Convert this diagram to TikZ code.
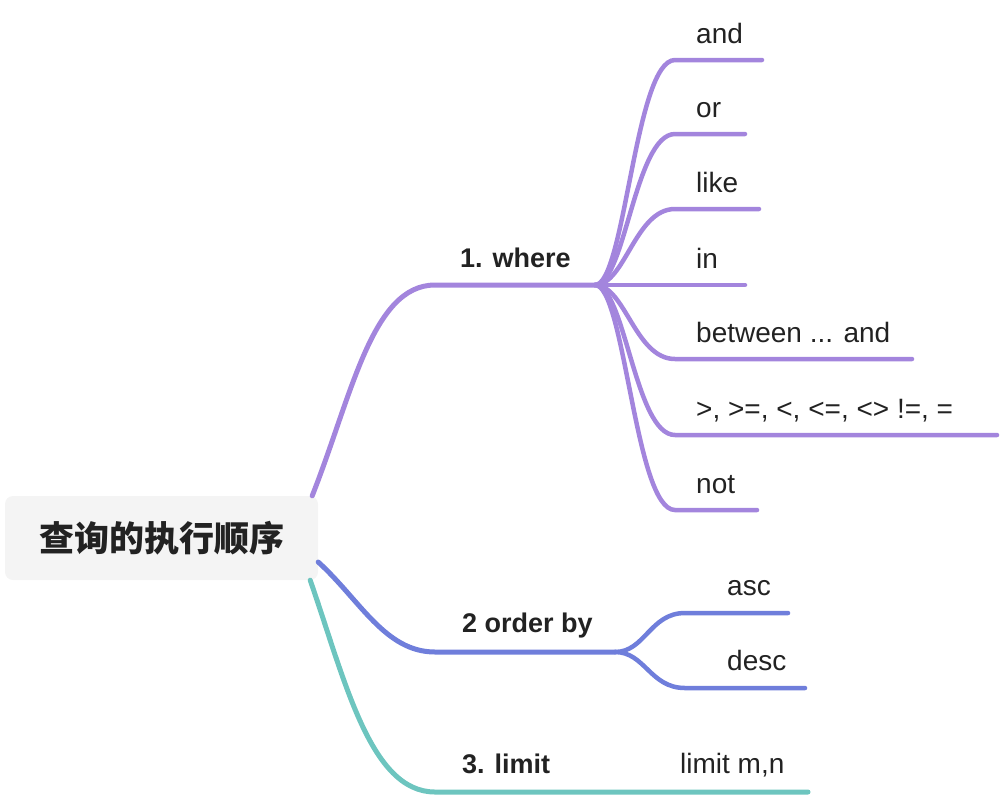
\documentclass[tikz,border=0pt]{standalone}
\usepackage{fontspec}
\setmainfont{Liberation Sans}
\newfontfamily\cjk{Noto Sans CJK SC}
\definecolor{wherecol}{HTML}{A385DD}
\definecolor{ordercol}{HTML}{6F7EDB}
\definecolor{limitcol}{HTML}{6DC5BF}
\definecolor{textcol}{HTML}{222222}
\definecolor{rootfill}{HTML}{F4F4F4}
\tikzset{
  rootbox/.style={fill=rootfill, rounded corners=8pt, minimum width=313pt,
    minimum height=84pt, inner sep=0pt, text=textcol,
    font=\cjk\bfseries\fontsize{35}{40}\selectfont},
  branch/.style={line width=5pt, line cap=round},
  twig/.style={line width=4.5pt, line cap=round},
  headtext/.style={anchor=base west, inner sep=0pt, text=textcol,
    font=\bfseries\fontsize{27}{32}\selectfont},
  leaf/.style={anchor=base west, inner sep=0pt, text=textcol,
    font=\fontsize{28}{32}\selectfont}
}
\begin{document}
\begin{tikzpicture}[x=1pt,y=-1pt]
\useasboundingbox (0,0) rectangle (1000,796);
\node [rootbox] (root) at (161.5,538) {查询的执行顺序};
\coordinate (jw) at (595,285);
\coordinate (jo) at (615,652);
% main branches
\draw [branch, wherecol] ([xshift=-6pt]root.north east) .. controls (352,395) and (372,285) .. (435,285) -- (jw);
\draw [branch, ordercol] ([yshift=-24pt]root.east) .. controls (360,600) and (385,652) .. (435,652) -- (jo);
\draw [branch, limitcol] ([xshift=-8pt]root.south east) .. controls (345,680) and (370,792) .. (435,792) -- (808,792);
\node [headtext] (where) at (460,267) {1. where};
\node [headtext] (order) at (462,632) {2 order by};
\node [headtext] (limit) at (462,773) {3. limit};
\node [leaf] (limitmn) at (680,773) {limit m,n};
% where
\foreach \name/\y/\xend/\txt in {and/60/762/and, or/134/745/or, like/209/759/like,
    in/285/745/in, between/359/912/{between ... and},
    cmp/435/997/{>, >=, <, <=, <> !=, =}, not/510/757/not}
{
  \node [leaf] (\name) at (696,\y-17) {\txt};
  \coordinate (\name end) at (\xend,\y);
  \draw [twig, wherecol] (jw) .. controls (625,285) and (635,\y) .. (675,\y) -- (\name end);
}
% order by
\foreach \name/\y/\xend in {asc/613/788, desc/688/805}
{
  \node [leaf] (\name) at (727,\y-18) {\name};
  \coordinate (\name end) at (\xend,\y);
  \draw [twig, ordercol] (jo) .. controls (645,652) and (650,\y) .. (685,\y) -- (\name end);
}
\end{tikzpicture}
\end{document}
